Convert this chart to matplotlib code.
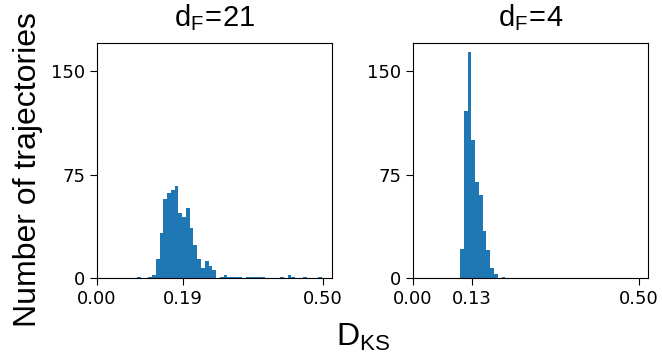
import numpy as np
import matplotlib
matplotlib.use("Agg")
import matplotlib.pyplot as plt

# ---- data ----
titles = ["21", "4"]

# left panel (d_F = 21): histogram counts, bins from lo to hi
left_lo, left_hi = 0.0883, 0.4971
left_counts = [1, 0, 0, 1, 2, 14, 33, 57, 62, 64, 67, 47, 44, 51, 36, 24, 14,
               7, 12, 9, 6, 0, 1, 2, 1, 1, 1, 1, 0, 1, 1, 1, 1, 1, 0, 0, 0, 0,
               1, 0, 2, 1, 0, 0, 1, 0, 0, 0, 1]

# right panel (d_F = 4)
right_lo, right_hi = 0.104, 0.2042
right_counts = [21, 121, 164, 100, 70, 60, 34, 20, 7, 3, 0, 1]

left_xticks = [0.0, 0.19, 0.50]
right_xticks = [0.0, 0.13, 0.50]
yticks = [0, 75, 150]

plt.rcParams['mathtext.fontset'] = 'custom'
plt.rcParams['mathtext.rm'] = 'Liberation Sans'
plt.rcParams['mathtext.it'] = 'Liberation Sans'

W, H = 662, 352
fig = plt.figure(figsize=(W / 100, H / 100), dpi=100)

ax_w, ax_h = 235 / W, 235 / H
bottom = (H - 278) / H
ax1 = fig.add_axes([97 / W, bottom, ax_w, ax_h])
ax2 = fig.add_axes([413 / W, bottom, ax_w, ax_h])

color = '#1f77b4'
for ax, lo, hi, counts, xt, t in [
        (ax1, left_lo, left_hi, left_counts, left_xticks, titles[0]),
        (ax2, right_lo, right_hi, right_counts, right_xticks, titles[1])]:
    counts = np.asarray(counts, dtype=float)
    edges = np.linspace(lo, hi, len(counts) + 1)
    ax.hist(edges[:-1], bins=edges, weights=counts, color=color)
    ax.set_xlim(0, 0.52)
    ax.set_ylim(0, 170.5)
    ax.set_xticks(xt)
    ax.set_xticklabels([f"{v:.2f}" for v in xt])
    ax.set_yticks(yticks)
    ax.tick_params(labelsize=13, length=5)
    ax.set_title(r'$\mathregular{d_F\!=\!' + t + '}$', fontsize=21,
                 family='Liberation Sans', pad=12)

fig.text(28 / W, (H - 170) / H, 'Number of trajectories', rotation=90,
         ha='center', va='center', fontsize=23, family='Liberation Sans')
fig.text(363 / W, (H - 337) / H, r'$\mathregular{D_{KS}}$',
         ha='center', va='center', fontsize=23, family='Liberation Sans')

fig.savefig('out.png', dpi=100)
